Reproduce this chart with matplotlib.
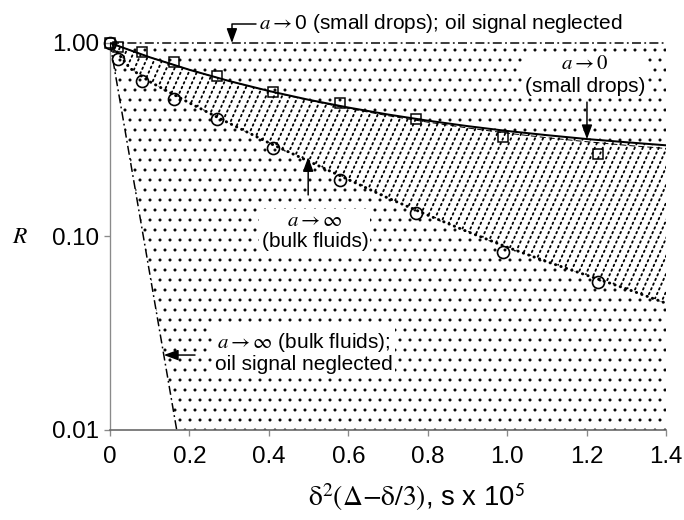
import numpy as np
import matplotlib
matplotlib.use('Agg')
import matplotlib.pyplot as plt
from matplotlib.lines import Line2D

plt.rcParams['font.family'] = ['Liberation Sans', 'DejaVu Sans']
plt.rcParams['mathtext.fontset'] = 'stix'
plt.rcParams['hatch.linewidth'] = 0.6

# ---------------- data ----------------
x_pts = [0.0, 0.02, 0.08, 0.16, 0.27, 0.41, 0.58, 0.77, 0.99, 1.23]
R_small_drops = [1.0, 0.953, 0.898, 0.798, 0.675, 0.558, 0.490, 0.405, 0.327, 0.267]
R_bulk = [1.0, 0.827, 0.636, 0.514, 0.405, 0.287, 0.196, 0.132, 0.0832, 0.0582]

x_fit = [0.0, 0.1, 0.2, 0.3, 0.4, 0.5, 0.6, 0.7, 0.8, 0.9, 1.0, 1.1, 1.2, 1.3, 1.4]
R_small_fit = [1.0, 0.844, 0.727, 0.636, 0.565, 0.509, 0.464, 0.427, 0.397,
               0.372, 0.351, 0.334, 0.319, 0.307, 0.296]
R_small_fit2 = [1.0, 0.844, 0.727, 0.636, 0.563, 0.506, 0.459, 0.421, 0.390,
                0.364, 0.342, 0.324, 0.309, 0.296, 0.285]

x_bulk_fit = [0.0, 0.05, 0.1, 0.2, 0.3, 0.4, 0.5, 0.6, 0.7, 0.8, 0.9, 1.0, 1.1, 1.2, 1.3, 1.4]
R_bulk_fit = [1.0, 0.741, 0.631, 0.490, 0.385, 0.305, 0.245, 0.197, 0.158,
              0.129, 0.106, 0.0881, 0.0741, 0.0631, 0.0537, 0.0452]

x_oil = [0.0, 0.168]
R_oil = [1.0, 0.01]

x_top = [0.0, 1.4]
R_top = [1.0, 1.0]

x_ticks = [0, 0.2, 0.4, 0.6, 0.8, 1.0, 1.2, 1.4]
x_ticklabels = ['0', '0.2', '0.4', '0.6', '0.8', '1.0', '1.2', '1.4']
y_ticks = [0.01, 0.1, 1.0]
y_ticklabels = ['0.01', '0.10', '1.00']

# ---------------- figure ----------------
fig = plt.figure(figsize=(684 / 120, 520 / 120), dpi=120)
ax = fig.add_axes([110 / 684, 90 / 520, 556 / 684, 387 / 520])
ax.set_yscale('log')
ax.set_xlim(x_ticks[0], x_ticks[-1])
ax.set_ylim(y_ticks[0], y_ticks[-1])

# stippled region (right of the oil-neglected bulk line)
ax.fill([x_oil[0], x_oil[1], x_ticks[-1], x_ticks[-1]],
        [R_oil[0], R_oil[1], y_ticks[0], y_ticks[-1]],
        facecolor='white', edgecolor='black', linewidth=0, hatch='..', zorder=1)

# region between the two model curves (diagonal dotted hatch)
hx = list(x_fit) + list(x_bulk_fit[::-1])
hy = list(R_small_fit) + list(R_bulk_fit[::-1])
band = ax.fill(hx, hy, facecolor='white', edgecolor='none', zorder=1.5)[0]
slope = 0.45 * 387 / 556
for c in np.arange(-0.45, 1.05, 8 / 556):
    ln = Line2D([c, c + slope], [0, 1], transform=ax.transAxes, color='black',
                lw=1.1, linestyle=(0, (0.9, 1.9)), dash_capstyle='round', zorder=1.6)
    ln.set_clip_path(band)
    ax.add_line(ln)

# lines
dashdot = (0, (6, 2.2, 1.2, 2.2))
ax.plot(x_top, R_top, color='black', lw=0.9, linestyle=dashdot, zorder=4, clip_on=False)
ax.plot(x_oil, R_oil, color='black', lw=0.9, linestyle=dashdot, zorder=4)
ax.plot(x_fit, R_small_fit2, color='black', lw=0.6, linestyle=(0, (6, 3)), zorder=4)
ax.plot(x_fit, R_small_fit, color='black', lw=1.2, zorder=4)
ax.plot(x_bulk_fit, R_bulk_fit, color='black', lw=1.8, linestyle=(0, (0.1, 1.8)),
        dash_capstyle='round', zorder=4)

# markers
ax.plot(x_pts, R_small_drops, linestyle='none', marker='s', markersize=5.5,
        markerfacecolor='none', markeredgecolor='black', markeredgewidth=0.9, zorder=5,
        clip_on=False)
ax.plot(x_pts, R_bulk, linestyle='none', marker='o', markersize=7.2,
        markerfacecolor='none', markeredgecolor='black', markeredgewidth=1.0, zorder=5,
        clip_on=False)

# annotations
fs = 12.5
box = dict(boxstyle='square,pad=0.1', facecolor='white', edgecolor='none')
arrow = dict(arrowstyle='-|>,head_length=0.6,head_width=0.22', color='black', lw=0.9,
             shrinkA=0, shrinkB=0, mutation_scale=12)

top_arrow = dict(arrow)
top_arrow['connectionstyle'] = 'angle,angleA=180,angleB=90,rad=0'
ax.annotate(r'$a\rightarrow$0 (small drops); oil signal neglected',
            xy=(0.307, 1.0), xytext=(0.375, 1.26), textcoords='data',
            ha='left', va='center', fontsize=fs, annotation_clip=False,
            arrowprops=top_arrow, zorder=6)

ax.text(1.196, 0.684, '$a\\rightarrow0$\n(small drops)', ha='center', va='center',
        fontsize=fs, linespacing=1.25, bbox=box, zorder=3)
ax.annotate('', xy=(1.201, 0.318), xytext=(1.201, 0.495), arrowprops=arrow, zorder=6)

ax.text(0.516, 0.1068, '$a\\rightarrow\\infty$\n(bulk fluids)', ha='center', va='center',
        fontsize=fs, linespacing=1.1, bbox=box, zorder=3)
ax.annotate('', xy=(0.499, 0.2575), xytext=(0.499, 0.164), arrowprops=arrow, zorder=6)

ax.text(0.489, 0.02515, '$a\\rightarrow\\infty$ (bulk fluids);\noil signal neglected',
        ha='center', va='center', fontsize=fs, linespacing=1.05, bbox=box, zorder=3)
ax.annotate('', xy=(0.1354, 0.0244), xytext=(0.214, 0.0244), arrowprops=arrow, zorder=6)

# axes styling
ax.spines['top'].set_visible(False)
ax.spines['right'].set_visible(False)
ax.spines['left'].set_color('#8a8a8a')
ax.spines['bottom'].set_color('#6a6a6a')
ax.spines['left'].set_linewidth(0.8)
ax.spines['bottom'].set_linewidth(1.0)
ax.set_xticks(x_ticks)
ax.set_xticklabels(x_ticklabels)
ax.set_yticks(y_ticks)
ax.set_yticklabels(y_ticklabels)
ax.yaxis.set_minor_locator(matplotlib.ticker.NullLocator())
ax.tick_params(axis='both', which='major', labelsize=14.5, color='#8a8a8a',
               length=3.5, width=0.8, direction='out')
ax.tick_params(axis='x', pad=6)
ax.tick_params(axis='y', pad=3)

ax.set_ylabel('$R$', rotation=0, fontsize=14, va='center', ha='center')
ax.yaxis.set_label_coords(-0.162, 0.5)
ax.set_xlabel(r'$\mathrm{\delta}^{2}(\Delta\mathrm{-}\mathrm{\delta}/3)$, s x 10$^{\mathsf{5}}$',
              fontsize=16.5)
ax.xaxis.label.set_va('center')
ax.xaxis.set_label_coords(0.552, -0.173)

fig.savefig('out.png', dpi=120)
